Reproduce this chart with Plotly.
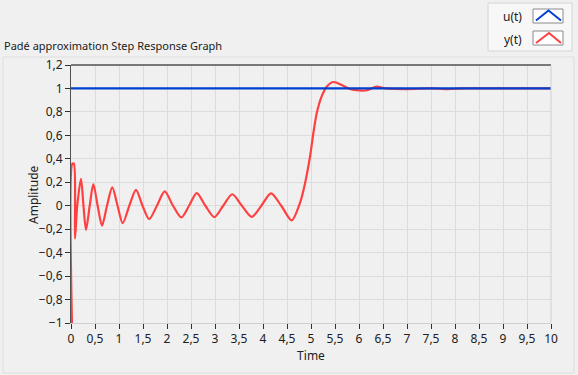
import plotly.graph_objects as go

# ---- data ----
t_y = [0.02, 0.03, 0.06, 0.083, 0.13, 0.208, 0.26, 0.3125, 0.39, 0.465, 0.555, 0.646,
       0.75, 0.86, 0.97, 1.077, 1.215, 1.354, 1.49, 1.63, 1.79, 1.952, 2.125, 2.298,
       2.46, 2.619, 2.80, 2.985, 3.17, 3.36, 3.56, 3.765, 3.965, 4.167, 4.38, 4.598,
       4.77, 4.875, 4.98, 5.05, 5.12, 5.22, 5.33, 5.465, 5.64, 5.81, 6.0, 6.17, 6.37,
       6.55, 7.0, 7.5, 7.8, 8.2, 9.0, 10.0]
y_vals = [-1, 0.36, 0.36, -0.28, 0.0, 0.23, 0.0, -0.205, 0.0, 0.185, 0.0, -0.17,
          0.0, 0.156, 0.0, -0.148, 0.0, 0.136, 0.0, -0.114, 0.0, 0.122, 0.0, -0.1,
          0.0, 0.108, 0.0, -0.097, 0.0, 0.098, 0.0, -0.095, 0.0, 0.105, 0.0, -0.125,
          0.023, 0.19, 0.42, 0.62, 0.79, 0.93, 1.017, 1.055, 1.03, 0.995, 0.983, 0.985,
          1.015, 1.0, 0.995, 1.0, 0.995, 1.0, 1.0, 1.0]
t_u = [0, 10]
u_vals = [1, 1]
x_ticks = [0, 0.5, 1, 1.5, 2, 2.5, 3, 3.5, 4, 4.5, 5, 5.5, 6, 6.5, 7, 7.5, 8, 8.5, 9, 9.5, 10]
y_ticks = [-1, -0.8, -0.6, -0.4, -0.2, 0, 0.2, 0.4, 0.6, 0.8, 1, 1.2]

W, H = 578, 375
L, R, T, B = 71, 551, 65, 323
FONT = "Noto Sans"
RED = "#ff4040"
BLUE = "#0040d0"


def px(x):
    return (x - L) / (R - L)


def py(y):
    return (B - y) / (B - T)


fig = go.Figure()
fig.add_trace(go.Scatter(x=t_y, y=y_vals, mode="lines", name="y(t)",
                         line=dict(color=RED, width=2.2, shape="spline", smoothing=0.8),
                         showlegend=False))
fig.add_trace(go.Scatter(x=t_u, y=u_vals, mode="lines", name="u(t)",
                         line=dict(color=BLUE, width=2.2), showlegend=False))

shapes = []
annotations = []

# chart panel
shapes.append(dict(type="rect", xref="paper", yref="paper", layer="below",
                   x0=px(3), x1=px(574), y0=py(373), y1=py(57),
                   fillcolor="#f0f0f0", line=dict(color="#dedede", width=1)))
# plot frame
shapes.append(dict(type="line", xref="paper", yref="paper", x0=0, x1=1, y0=1, y1=1,
                   line=dict(color="#505050", width=1.5)))
shapes.append(dict(type="line", xref="paper", yref="paper", x0=1, x1=1, y0=0, y1=1,
                   line=dict(color="#d0d0d0", width=1)))

# custom legend
shapes.append(dict(type="rect", xref="paper", yref="paper",
                   x0=px(488), x1=px(572), y0=py(51), y1=py(3),
                   fillcolor="#f7f7f7", line=dict(color="#d4d4d4", width=1)))
for (y0, y1, col, pts) in [(9, 23, BLUE, [(536, 20.5), (548.5, 10.5), (561, 20.5)]),
                           (31, 45, RED, [(536, 43), (549, 33), (561, 43)])]:
    shapes.append(dict(type="rect", xref="paper", yref="paper",
                       x0=px(533), x1=px(563), y0=py(y1), y1=py(y0),
                       fillcolor="white", line=dict(color="#8a8a8a", width=1)))
    path = "M {} {} L {} {} L {} {}".format(px(pts[0][0]), py(pts[0][1]),
                                            px(pts[1][0]), py(pts[1][1]),
                                            px(pts[2][0]), py(pts[2][1]))
    shapes.append(dict(type="path", xref="paper", yref="paper", path=path,
                       line=dict(color=col, width=2)))
for txt, yy in [("u(t)", 16), ("y(t)", 39)]:
    annotations.append(dict(text=txt, xref="paper", yref="paper", x=px(524), y=py(yy),
                            xanchor="right", yanchor="middle", showarrow=False,
                            font=dict(family=FONT, size=12, color="#202020")))

# title
annotations.append(dict(text="Padé approximation Step Response Graph", xref="paper",
                        yref="paper", x=px(2), y=py(45), xanchor="left", yanchor="middle",
                        showarrow=False, font=dict(family=FONT, size=11, color="#202020")))
# y axis title
annotations.append(dict(text="Amplitude", xref="paper", yref="paper", x=px(33),
                        y=py(195), xanchor="center", yanchor="middle", textangle=-90,
                        showarrow=False, font=dict(family=FONT, size=12, color="#202020")))

fig.update_layout(
    width=W, height=H,
    margin=dict(l=L, r=W - R, t=T, b=H - B, pad=0),
    paper_bgcolor="#f0f0f0", plot_bgcolor="white",
    separators=", ",
    font=dict(family=FONT, size=12, color="#202020"),
    shapes=shapes, annotations=annotations,
    xaxis=dict(range=[0, 10], tickvals=x_ticks, showgrid=True, gridcolor="#dcdcdc",
               gridwidth=1, zeroline=False, showline=True, linecolor="#d0d0d0",
               ticks="outside", ticklen=5, tickcolor="#303030",
               title=dict(text="Time", standoff=4, font=dict(size=12)),
               tickfont=dict(size=12)),
    yaxis=dict(range=[-1, 1.2], tickvals=y_ticks, showgrid=True, gridcolor="#dcdcdc",
               gridwidth=1, zeroline=False, showline=True, linecolor="#505050",
               ticks="outside", ticklen=5, tickcolor="#303030",
               tickfont=dict(size=12)),
)

fig.write_html("out.html", config={"displayModeBar": False},
               post_script="document.body.style.margin='0';"
                           "document.body.style.overflow='hidden';")
